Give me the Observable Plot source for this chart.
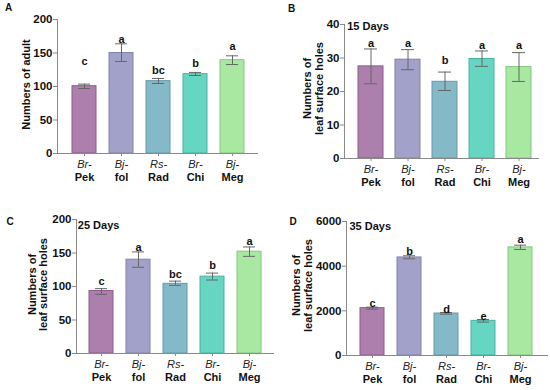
<!DOCTYPE html>
<html>
<head>
<meta charset="utf-8">
<script src="https://cdn.jsdelivr.net/npm/d3@7"></script>
<script src="https://cdn.jsdelivr.net/npm/@observablehq/plot@0.6"></script>
<style>
  body { margin: 0; background: #fff; }
  #wrap { position: relative; width: 550px; height: 390px; background: #fff; }
  .p { position: absolute; width: 275px; height: 195px; }
</style>
</head>
<body>
<div id="wrap">
  <div class="p" id="pA" style="left:0;top:0"></div>
  <div class="p" id="pB" style="left:275px;top:0"></div>
  <div class="p" id="pC" style="left:0;top:195px"></div>
  <div class="p" id="pD" style="left:275px;top:195px"></div>
</div>
<script>
// categories
const keys = ["Pek", "fol", "Rad", "Chi", "Meg"];
const prefixes = ["Br-", "Bj-", "Rs-", "Br-", "Bj-"];
const suffixes = ["Pek", "fol", "Rad", "Chi", "Meg"];
const fills = ["#ad7fad", "#a2a1c9", "#84b9c7", "#66d5c1", "#a8e8a1"];
const strokes = ["#8a5e8a", "#8282aa", "#6799a8", "#49b3a1", "#83c880"];

// Panel A: adults
const aMean = [100.5, 150, 108, 118.4, 139.3];
const aLo = [97, 137.3, 104.5, 116.4, 132.8];
const aHi = [103.5, 163.7, 112, 121, 145.8];
const aSig = ["c", "a", "bc", "b", "a"];
const aSigY = [138, 170, 124, 135, 160];
const aTicks = [0, 50, 100, 150, 200];

// Panel B: 15 days
const bMean = [27.5, 29.5, 22.9, 29.7, 27.3];
const bLo = [22.3, 26.5, 20.3, 27.5, 23.0];
const bHi = [32.7, 32.5, 25.8, 32.1, 31.6];
const bSig = ["a", "a", "b", "a", "a"];
const bSigY = [34.3, 34.3, 29.3, 33.7, 33.7];
const bTicks = [0, 10, 20, 30, 40];

// Panel C: 25 days
const cMean = [93.3, 140, 104, 114.7, 152];
const cLo = [88.3, 128.7, 101.7, 109.7, 145];
const cHi = [96.8, 151.6, 108, 120, 159];
const cSig = ["c", "a", "bc", "b", "a"];
const cSigY = [107.7, 158, 117.7, 131.7, 167.6];
const cTicks = [0, 50, 100, 150, 200];

// Panel D: 35 days
const dMean = [2120, 4390, 1880, 1550, 4840];
const dLo = [2075, 4330, 1850, 1495, 4750];
const dHi = [2165, 4465, 1925, 1610, 4940];
const dSig = ["c", "b", "d", "e", "a"];
const dSigY = [2330, 4670, 2045, 1760, 5195];
const dTicks = [0, 2000, 4000, 6000];

const FONT = "'Liberation Sans', Arial, Helvetica, sans-serif";

function panel(o) {
  const rows = keys.map((k, i) => ({
    key: k, pre: prefixes[i], suf: suffixes[i],
    mean: o.mean[i], lo: o.lo[i], hi: o.hi[i],
    sig: o.sig[i], sigY: o.sigY[i],
    fill: fills[i], stroke: strokes[i]
  }));
  const marks = [
    Plot.barY(rows, {x: "key", y: "mean", fill: "fill", stroke: "stroke", strokeWidth: 1}),
    Plot.ruleX(rows, {x: "key", y1: "lo", y2: "hi", stroke: "#666", strokeWidth: 1}),
    Plot.tickY(rows, {x: "key", y: "lo", stroke: "#666", insetLeft: 6, insetRight: 6}),
    Plot.tickY(rows, {x: "key", y: "hi", stroke: "#666", insetLeft: 6, insetRight: 6}),
    Plot.text(rows, {x: "key", y: "sigY", text: "sig", fontWeight: "bold", fontSize: 11, fill: "#111"}),
    Plot.frame({anchor: "left", stroke: "#8a8a8a"}),
    Plot.frame({anchor: "bottom", stroke: "#8a8a8a"}),
    Plot.axisY({ticks: o.ticks, tickSize: 4, tickPadding: 1, stroke: "#8a8a8a", fill: "#111",
      fontWeight: "bold", fontSize: 11.5, label: null, tickFormat: d => String(d)}),
    Plot.axisX({tickSize: 3, stroke: "#8a8a8a", tickFormat: () => "", label: null}),
    Plot.text(rows, {x: "key", frameAnchor: "bottom", dy: 10.5, text: "pre", fontStyle: "italic",
      fontSize: 11, fill: "#222", lineAnchor: "middle", textAnchor: "middle"}),
    Plot.text(rows, {x: "key", frameAnchor: "bottom", dy: 24, text: "suf", fontWeight: "bold",
      fontSize: 11, fill: "#111", lineAnchor: "middle", textAnchor: "middle"}),
    Plot.text([o.ylabel], {frameAnchor: "left", dx: o.ydx, dy: o.ydy, rotate: -90, fontWeight: "bold",
      fontSize: 11, lineHeight: 1.05, fill: "#111", lineAnchor: "middle", textAnchor: "middle"}),
    Plot.text([o.letter], {frameAnchor: "top-left", dx: o.ldx, dy: o.ldy, fontWeight: "bold",
      fontSize: 10, fill: "#111", lineAnchor: "middle", textAnchor: "middle"})
  ];
  if (o.days) {
    marks.push(Plot.text([o.days], {frameAnchor: "top-left", dx: o.tdx, dy: o.tdy, fontWeight: "bold",
      fontSize: 11, fill: "#111", textAnchor: "start", lineAnchor: "middle"}));
  }
  return Plot.plot({
    width: 275, height: 195,
    marginLeft: o.m[0], marginRight: o.m[1], marginTop: o.m[2], marginBottom: o.m[3],
    style: {fontFamily: FONT, background: "#fff", overflow: "visible"},
    x: {domain: keys, range: o.range, paddingInner: o.pi, paddingOuter: 0, axis: null},
    y: {domain: [0, o.ymax], axis: null},
    color: {type: "identity"},
    marks
  });
}

document.getElementById("pA").append(panel({
  mean: aMean, lo: aLo, hi: aHi, sig: aSig, sigY: aSigY, ticks: aTicks, ymax: 200,
  ylabel: "Numbers of adult", ydx: -31, ydy: -2, letter: "A", ldx: -49, ldy: -11.7,
  m: [57, 18, 19, 42], range: [70, 245.7], pi: 0.358
}));
document.getElementById("pB").append(panel({
  mean: bMean, lo: bLo, hi: bHi, sig: bSig, sigY: bSigY, ticks: bTicks, ymax: 40,
  ylabel: "Numbers of\nleaf surface holes", ydx: -31, ydy: -3, letter: "B", ldx: -53, ldy: -16,
  days: "15 Days", tdx: 2.7, tdy: 2.3,
  m: [69, 12, 24, 37], range: [81.7, 258.3], pi: 0.32
}));
document.getElementById("pC").append(panel({
  mean: cMean, lo: cLo, hi: cHi, sig: cSig, sigY: cSigY, ticks: cTicks, ymax: 200,
  ylabel: "Numbers of\nleaf surface holes", ydx: -38.5, ydy: -2, letter: "C", ldx: -66.4, ldy: 2.3,
  days: "25 Days", tdx: 1.3, tdy: 5.7,
  m: [76, 2, 24, 37], range: [88.3, 262.3], pi: 0.348
}));
document.getElementById("pD").append(panel({
  mean: dMean, lo: dLo, hi: dHi, sig: dSig, sigY: dSigY, ticks: dTicks, ymax: 6000,
  ylabel: "Numbers of\nleaf surface holes", ydx: -44, ydy: -3, letter: "D", ldx: -53.5, ldy: 0.7,
  days: "35 Days", tdx: 3, tdy: 5.3,
  m: [71, 3, 26, 35], range: [84.3, 259], pi: 0.34
}));
</script>
</body>
</html>
